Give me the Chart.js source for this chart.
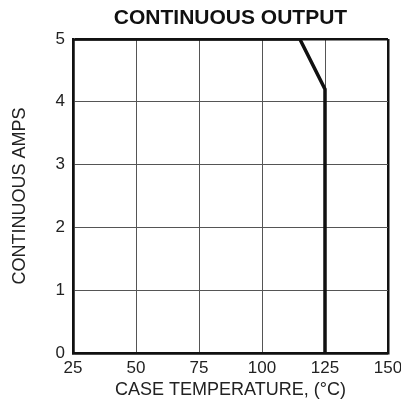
<!DOCTYPE html>
<html>
<head>
<meta charset="utf-8">
<script src="https://cdn.jsdelivr.net/npm/chart.js@4"></script>
<style>
  html, body { margin: 0; padding: 0; background: #fff; }
  #chart { display: block; }
</style>
</head>
<body>
<canvas id="chart" width="401" height="405"></canvas>
<script>
const temps = [25, 115, 125, 125];
const amps = [5, 5, 4.2, 0];
const xTicks = [25, 50, 75, 100, 125, 150];
const yTicks = [0, 1, 2, 3, 4, 5];
const chartTitle = "CONTINUOUS OUTPUT";

const ctx = document.querySelector("#chart").getContext("2d");
const font = "'Liberation Sans', Arial, sans-serif";

const edgeColor = (lo, hi) => (c) =>
  c.tick && (c.tick.value === lo || c.tick.value === hi) ? "#111" : "#555";
const edgeWidth = (lo, hi) => (c) =>
  c.tick && (c.tick.value === lo || c.tick.value === hi) ? 2.5 : 1;

// title centred over the plot area, not the canvas
const plotTitle = {
  id: "plotTitle",
  afterDraw(chart) {
    const { ctx, chartArea } = chart;
    ctx.save();
    ctx.font = "bold 21px " + font;
    ctx.fillStyle = "#111";
    ctx.textAlign = "center";
    ctx.textBaseline = "middle";
    ctx.fillText(chartTitle, (chartArea.left + chartArea.right) / 2, 18);
    ctx.restore();
  },
};

new Chart(ctx, {
  type: "line",
  data: {
    datasets: [
      {
        data: temps.map((t, i) => ({ x: t, y: amps[i] })),
        borderColor: "#111",
        borderWidth: 3.5,
        pointRadius: 0,
        tension: 0,
        fill: false,
      },
    ],
  },
  plugins: [plotTitle],
  options: {
    responsive: false,
    animation: false,
    layout: { padding: { left: 0, right: 0, top: 39, bottom: 0 } },
    plugins: {
      legend: { display: false },
      tooltip: { enabled: false },
      title: { display: false },
    },
    scales: {
      x: {
        type: "linear",
        min: 25,
        max: 150,
        afterBuildTicks: (axis) => {
          axis.ticks = xTicks.map((v) => ({ value: v }));
        },
        afterFit: (axis) => {
          axis.height = 52;
          axis.paddingRight = 13; // let "150" run off the edge like the original
        },
        grid: {
          color: edgeColor(25, 150),
          lineWidth: edgeWidth(25, 150),
          drawTicks: false,
        },
        border: { color: "#111", width: 2.5 },
        ticks: {
          color: "#222",
          padding: 5,
          maxRotation: 0,
          font: { family: font, size: 17 },
        },
        title: {
          display: true,
          text: "CASE TEMPERATURE, (°C)",
          color: "#222",
          font: { family: font, size: 18 },
          padding: { top: 0, bottom: 4 },
        },
      },
      y: {
        type: "linear",
        min: 0,
        max: 5,
        afterBuildTicks: (axis) => {
          axis.ticks = yTicks.map((v) => ({ value: v }));
        },
        afterFit: (axis) => {
          axis.width = 73;
        },
        grid: {
          color: edgeColor(0, 5),
          lineWidth: edgeWidth(0, 5),
          drawTicks: false,
        },
        border: { color: "#111", width: 2.5 },
        ticks: {
          color: "#222",
          padding: 8,
          font: { family: font, size: 17 },
        },
        title: {
          display: true,
          text: "CONTINUOUS AMPS",
          color: "#222",
          font: { family: font, size: 18 },
          padding: { top: 9, bottom: 0 },
        },
      },
    },
  },
});
</script>
</body>
</html>
